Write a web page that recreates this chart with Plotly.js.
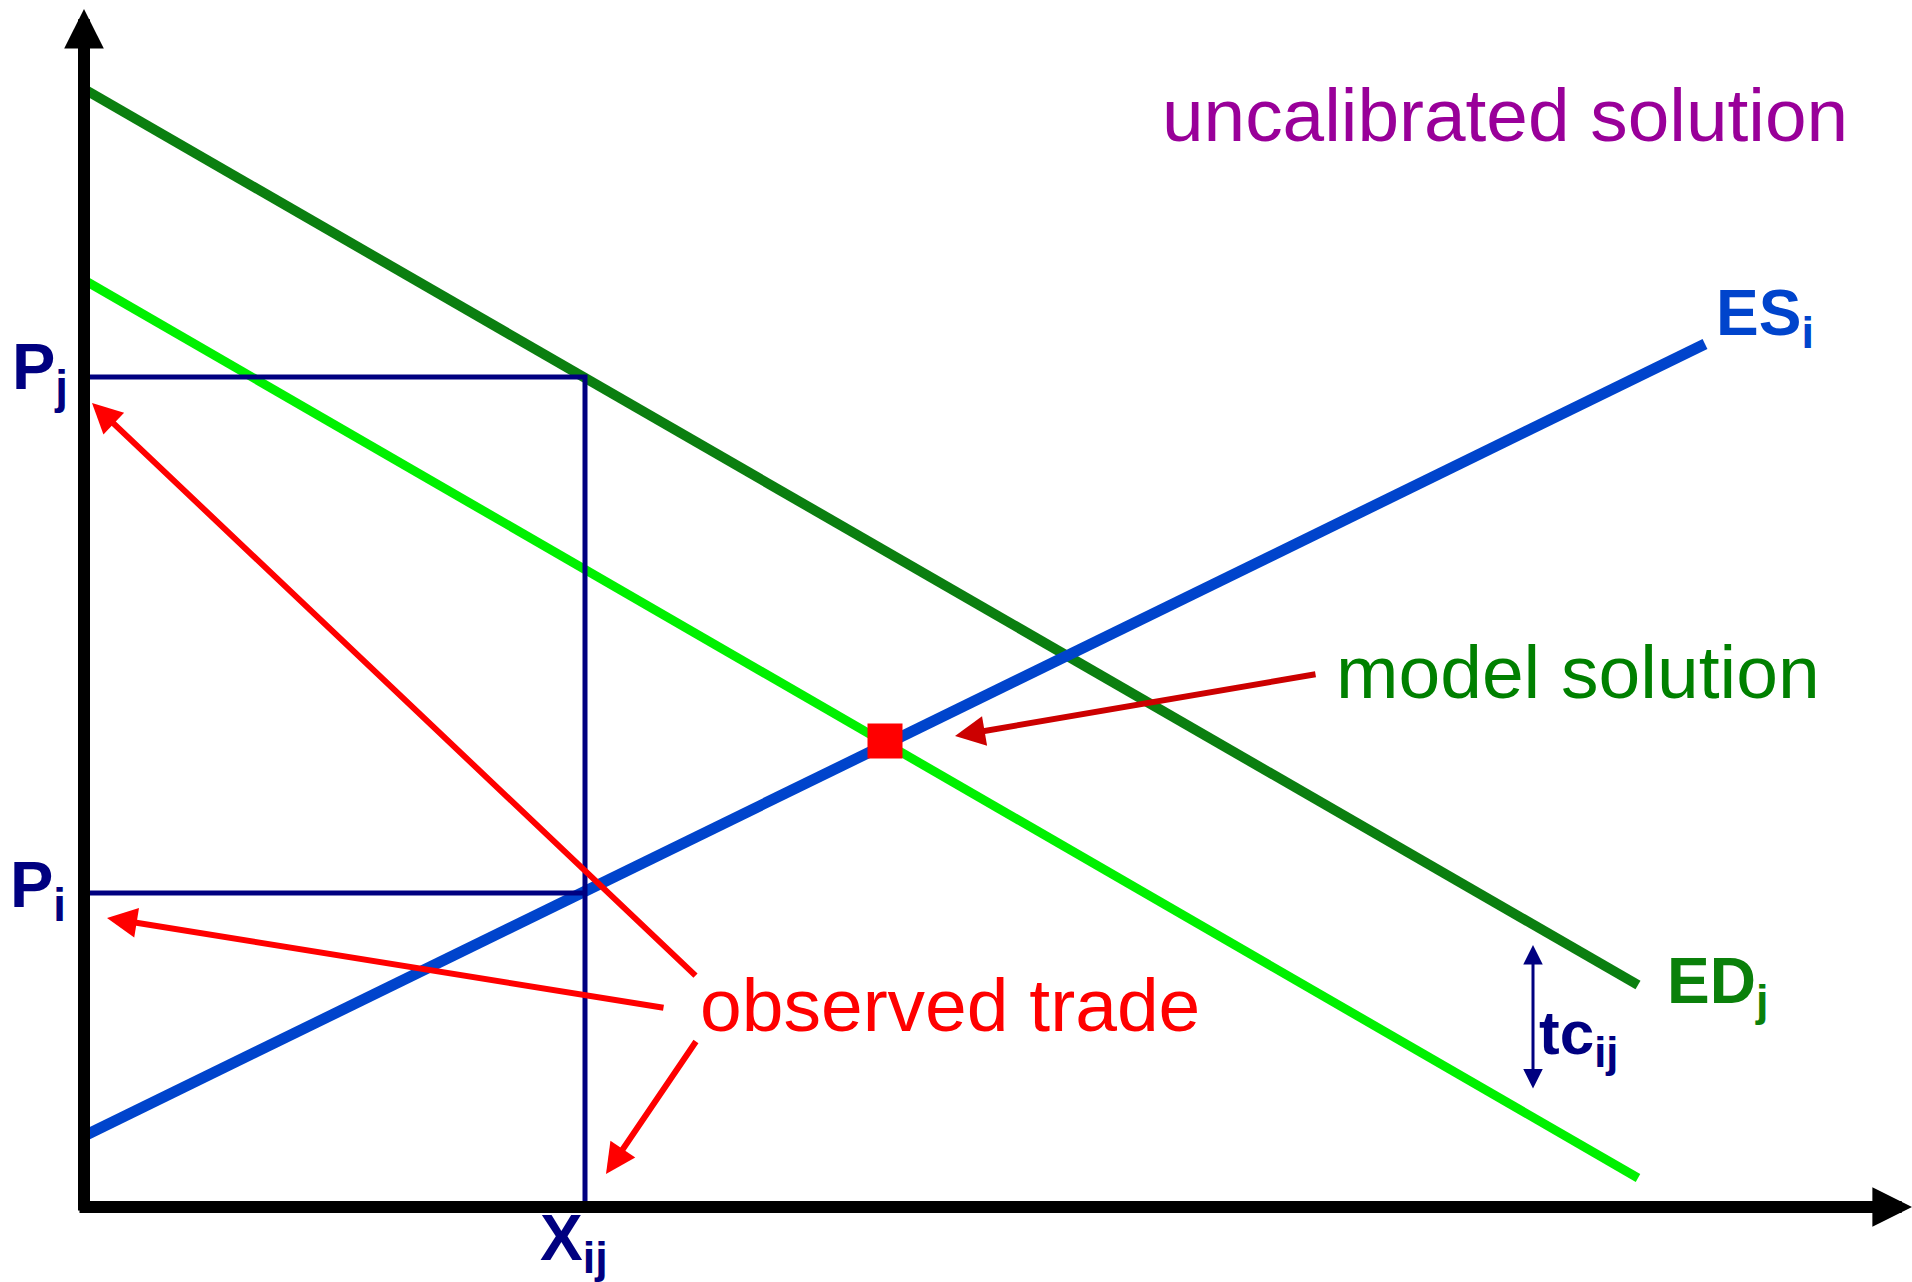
<!DOCTYPE html>
<html>
<head>
<meta charset="utf-8">
<script src="https://cdn.plot.ly/plotly-3.0.1.min.js"></script>
<style>html,body{margin:0;padding:0;background:#fff;}#chart{width:1912px;height:1282px;}</style>
</head>
<body>
<div id="chart"></div>
<script>
// ---- data (diagram units: quantity on x, price on y) ----
const edUncalX = [0, 155.4];      // ED_j (uncalibrated, dark green)
const edUncalY = [111.8, 22.2];
const edCalX = [0, 155.4];        // ED_j shifted by tc_ij (light green)
const edCalY = [92.7, 2.9];
const esX = [0, 162.1];           // ES_i (blue)
const esY = [7.1, 86.3];
const solX = [80.1];              // model solution
const solY = [46.6];
const Xij = 50.1;                 // observed trade quantity
const Pj = 83.0;                  // observed price in j
const Pi = 31.4;                  // observed price in i
const tcTop = 26.2, tcBottom = 11.7, tcX = 144.9;
const axisEndX = 182.8, axisEndY = 119.8;

const labels = {
  Pj: "<b>P<sub>j</sub></b>",
  Pi: "<b>P<sub>i</sub></b>",
  Xij: "<b>X<sub>ij</sub></b>",
  tc: "<b>tc<sub>ij</sub></b>",
  ED: "<b>ED<sub>j</sub></b>",
  ES: "<b>ES<sub>i</sub></b>",
  uncal: "uncalibrated solution",
  model: "model solution",
  observed: "observed trade"
};

const FONT = "Liberation Sans, Arial, Helvetica, sans-serif";
const NAVY = "#000080";

const traces = [
  {x: edUncalX, y: edUncalY, mode: "lines", line: {color: "#0b7f10", width: 10}, hoverinfo: "skip"},
  {x: edCalX, y: edCalY, mode: "lines", line: {color: "#00f000", width: 9}, hoverinfo: "skip"},
  {x: esX, y: esY, mode: "lines", line: {color: "#0044cc", width: 11}, hoverinfo: "skip"},
  {x: [0, Xij, Xij], y: [Pj, Pj, 0], mode: "lines", line: {color: NAVY, width: 5}, hoverinfo: "skip"},
  {x: [0, Xij], y: [Pi, Pi], mode: "lines", line: {color: NAVY, width: 5}, hoverinfo: "skip"},
  {x: solX, y: solY, mode: "markers", marker: {symbol: "square", size: 35, color: "#ff0000"}, hoverinfo: "skip"}
];

function arrow(tailX, tailY, tipX, tipY, color, width, size, head, extra) {
  return Object.assign({
    x: tipX, y: tipY, ax: tailX, ay: tailY, xref: "x", yref: "y", axref: "x", ayref: "y",
    text: "", showarrow: true, arrowhead: head, arrowsize: size, arrowwidth: width,
    arrowcolor: color, standoff: 0, startstandoff: 0
  }, extra || {});
}

function label(text, x, y, color, size) {
  return {x: x, y: y, xref: "x", yref: "y", text: text, showarrow: false,
    xanchor: "left", yanchor: "middle", font: {family: FONT, size: size, color: color}};
}

const annotations = [
  // axes
  arrow(0, -0.5, 0, axisEndY, "#000000", 12, 0.66, 2),
  arrow(-0.6, 0, axisEndX, 0, "#000000", 12, 0.66, 2),
  // observed trade arrows
  arrow(61.3, 23.0, 0.8, 80.4, "#ff0000", 6, 1.0, 2),
  arrow(58.1, 19.9, 2.3, 28.9, "#ff0000", 6, 1.0, 2),
  arrow(61.3, 16.7, 52.2, 3.3, "#ff0000", 6, 1.0, 2),
  // model solution arrow
  arrow(123.3, 53.3, 87.1, 47.1, "#cc0000", 6, 1.0, 2),
  // tc double arrow
  arrow(tcX, tcBottom, tcX, tcTop, NAVY, 3, 1.3, 2, {arrowside: "end+start"}),
  // labels
  label(labels.Pj, -7.4, 83.6, NAVY, 65),
  label(labels.Pi, -7.6, 31.8, NAVY, 65),
  label(labels.Xij, 45.4, -3.5, NAVY, 64),
  label(labels.tc, 145.3, 17.0, NAVY, 62),
  label(labels.ED, 158.1, 22.2, "#0a800a", 64),
  label(labels.ES, 163.0, 89.0, "#0044cc", 64),
  label(labels.uncal, 107.6, 109.2, "#990099", 74.8),
  label(labels.model, 125.0, 53.5, "#008000", 75),
  label(labels.observed, 61.4, 20.2, "#ff0000", 75)
];

const layout = {
  width: 1912, height: 1282,
  margin: {l: 0, r: 0, t: 0, b: 0, pad: 0},
  paper_bgcolor: "#ffffff", plot_bgcolor: "#ffffff",
  showlegend: false,
  xaxis: {range: [-8.4, 182.8], visible: false, fixedrange: true},
  yaxis: {range: [-7.5, 120.7], visible: false, fixedrange: true},
  annotations: annotations
};

Plotly.newPlot("chart", traces, layout, {displayModeBar: false, staticPlot: true});
</script>
</body>
</html>
